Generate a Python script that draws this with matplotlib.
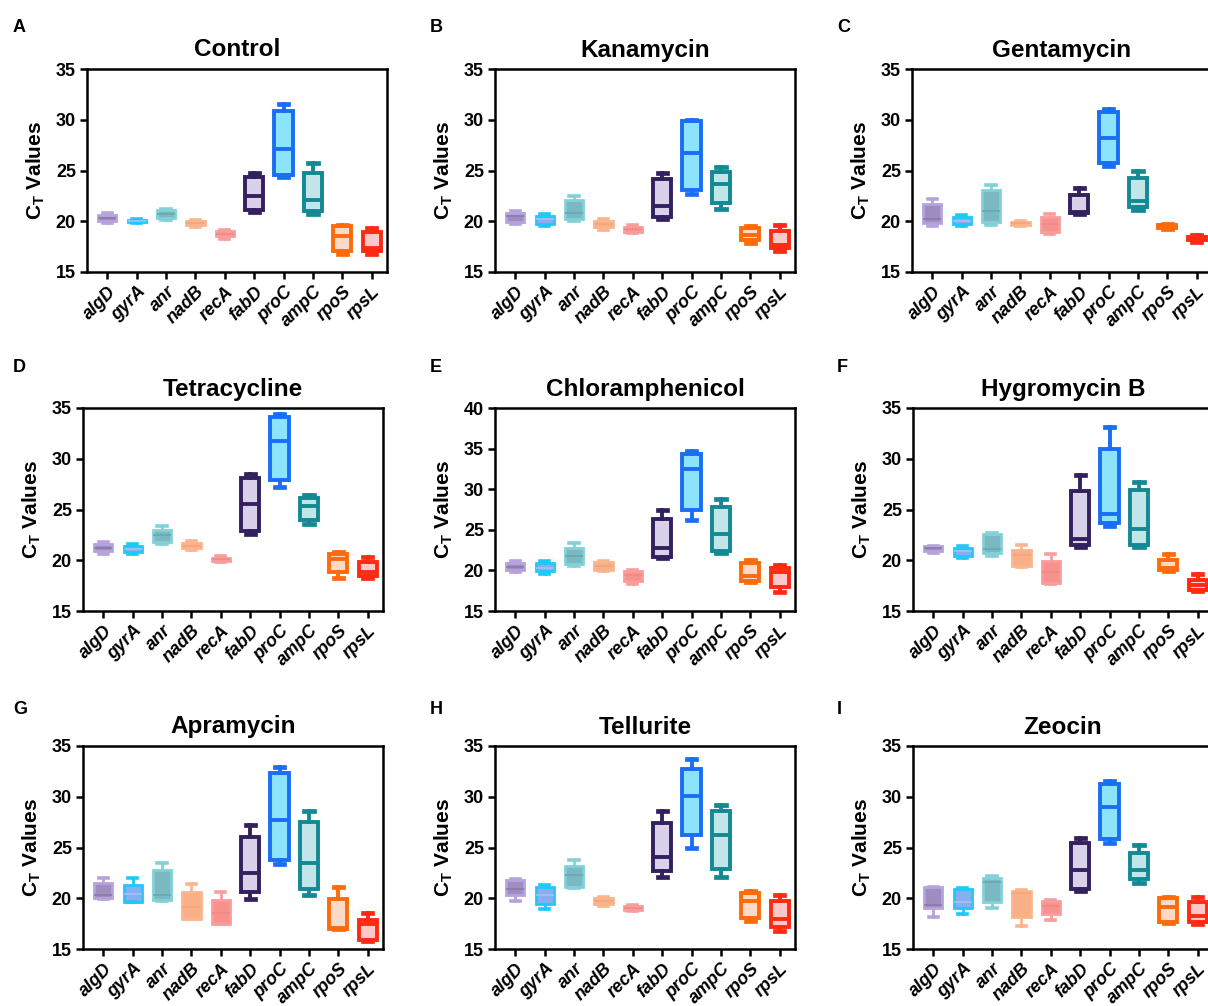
import numpy as np
import matplotlib
matplotlib.use("Agg")
import matplotlib.pyplot as plt

plt.rcParams['font.family'] = ['Liberation Sans', 'DejaVu Sans']
plt.rcParams['font.weight'] = 'bold'
plt.rcParams['mathtext.fontset'] = 'custom'
plt.rcParams['mathtext.bf'] = 'Liberation Sans:bold'
plt.rcParams['mathtext.rm'] = 'Liberation Sans:bold'

genes = ['algD', 'gyrA', 'anr', 'nadB', 'recA', 'fabD', 'proC', 'ampC', 'rpoS', 'rpsL']

# five-number summaries per gene: min, q1, median, q3, max
control = [[19.85, 20.05, 20.35, 20.65, 20.8], [19.8, 19.9, 20.05, 20.15, 20.2],
           [20.1, 20.3, 20.7, 21.1, 21.25], [19.45, 19.6, 19.8, 20.0, 20.1],
           [18.3, 18.5, 18.75, 19.0, 19.15], [20.95, 21.15, 22.5, 24.35, 24.75],
           [24.35, 24.55, 27.1, 30.9, 31.55], [20.75, 21.05, 22.1, 24.8, 25.7],
           [16.8, 17.1, 18.5, 19.5, 19.6], [16.8, 17.05, 17.35, 18.9, 19.35]]
kanamycin = [[19.7, 19.95, 20.5, 20.8, 21.0], [19.5, 19.75, 20.2, 20.5, 20.7],
             [20.0, 20.2, 20.8, 22.1, 22.5], [19.1, 19.4, 19.75, 20.05, 20.25],
             [18.8, 18.95, 19.2, 19.45, 19.6], [20.2, 20.4, 21.5, 24.2, 24.8],
             [22.7, 23.1, 26.7, 29.85, 30.0], [21.2, 21.8, 23.7, 24.85, 25.3],
             [17.9, 18.15, 18.6, 19.3, 19.5], [17.1, 17.35, 17.65, 19.05, 19.6]]
gentamycin = [[19.55, 19.8, 20.2, 21.7, 22.15], [19.5, 19.7, 20.05, 20.45, 20.65],
              [19.6, 19.9, 21.0, 23.1, 23.6], [19.5, 19.6, 19.8, 19.95, 20.0],
              [18.75, 18.95, 19.7, 20.4, 20.7], [20.75, 20.85, 20.9, 22.6, 23.3],
              [25.4, 25.7, 28.2, 30.8, 31.1], [21.15, 21.45, 21.95, 24.25, 24.95],
              [19.2, 19.3, 19.45, 19.6, 19.7], [18.0, 18.15, 18.3, 18.45, 18.6]]
tetracycline = [[20.6, 20.9, 21.25, 21.6, 21.75], [20.6, 20.8, 21.15, 21.45, 21.6],
                [21.6, 21.75, 22.5, 23.0, 23.35], [21.0, 21.2, 21.45, 21.7, 21.85],
                [19.8, 19.95, 20.1, 20.25, 20.4], [22.6, 22.9, 25.55, 28.15, 28.5],
                [27.25, 27.9, 31.7, 34.1, 34.4], [23.55, 23.95, 25.3, 26.15, 26.45],
                [18.25, 18.8, 20.1, 20.6, 20.8], [18.25, 18.4, 18.85, 19.8, 20.35]]
chloramphenicol = [[19.75, 20.0, 20.4, 20.9, 21.15], [19.6, 19.9, 20.3, 20.85, 21.1],
                   [20.6, 20.8, 21.8, 22.8, 23.4], [19.9, 20.1, 20.5, 21.0, 21.1],
                   [18.35, 18.75, 19.4, 19.9, 20.0], [21.5, 21.65, 22.7, 26.3, 27.4],
                   [26.15, 27.5, 32.45, 34.35, 34.75], [22.2, 22.45, 24.5, 27.85, 28.75],
                   [18.6, 18.7, 19.35, 20.95, 21.25], [17.35, 17.9, 19.85, 20.25, 20.7]]
hygromycin = [[20.7, 20.95, 21.2, 21.4, 21.45], [20.2, 20.45, 20.9, 21.2, 21.45],
              [20.45, 20.7, 21.15, 22.55, 22.7], [19.3, 19.4, 20.5, 21.0, 21.5],
              [17.7, 17.8, 18.8, 19.9, 20.6], [21.35, 21.55, 22.1, 26.85, 28.4],
              [23.35, 23.7, 24.6, 30.95, 33.1], [21.35, 21.5, 23.1, 26.9, 27.75],
              [18.9, 19.0, 19.25, 20.05, 20.6], [17.0, 17.1, 17.6, 18.1, 18.65]]
apramycin = [[19.9, 20.0, 20.3, 21.5, 22.0], [19.6, 19.65, 20.4, 21.35, 21.95],
             [19.75, 19.8, 20.3, 22.8, 23.45], [17.95, 18.0, 19.1, 20.6, 21.4],
             [17.45, 17.5, 18.5, 19.85, 20.6], [19.95, 20.6, 22.5, 26.05, 27.25],
             [23.35, 23.75, 27.7, 32.3, 32.95], [20.3, 20.9, 23.45, 27.5, 28.6],
             [16.95, 17.0, 17.1, 19.95, 21.1], [15.8, 15.85, 17.45, 17.85, 18.5]]
tellurite = [[19.75, 20.3, 20.9, 21.75, 21.85], [18.9, 19.45, 20.3, 21.15, 21.35],
             [21.0, 21.1, 22.3, 23.2, 23.8], [19.2, 19.45, 19.75, 20.0, 20.15],
             [18.7, 18.85, 19.05, 19.25, 19.35], [22.05, 22.65, 24.05, 27.4, 28.6],
             [24.95, 26.25, 30.05, 32.75, 33.7], [22.05, 22.85, 26.2, 28.55, 29.15],
             [17.75, 18.05, 19.7, 20.5, 20.7], [16.8, 17.15, 17.95, 19.7, 20.35]]
zeocin = [[18.2, 19.0, 19.35, 21.1, 21.15], [18.4, 19.05, 19.6, 20.9, 21.0],
          [19.05, 19.65, 21.6, 21.95, 22.2], [17.25, 18.15, 20.5, 20.75, 20.85],
          [17.9, 18.4, 19.2, 19.7, 19.8], [20.7, 20.9, 22.75, 25.4, 25.9],
          [25.4, 25.8, 29.0, 31.3, 31.55], [21.55, 21.9, 22.75, 24.45, 25.25],
          [17.55, 17.7, 19.1, 20.0, 20.1], [17.5, 17.7, 18.3, 19.6, 20.15]]

panels = [('A', 'Control', control, 35), ('B', 'Kanamycin', kanamycin, 35),
          ('C', 'Gentamycin', gentamycin, 35), ('D', 'Tetracycline', tetracycline, 35),
          ('E', 'Chloramphenicol', chloramphenicol, 40), ('F', 'Hygromycin B', hygromycin, 35),
          ('G', 'Apramycin', apramycin, 35), ('H', 'Tellurite', tellurite, 35),
          ('I', 'Zeocin', zeocin, 35)]

edge_colors = ['#b6a2dd', '#1ec9f8', '#82d0d8', '#fbb58c', '#f99d9c',
               '#33205e', '#1a6ef5', '#148893', '#ff6a0a', '#ff2a14']
face_colors = ['#9e8ec0', '#86aef0', '#7bb9c2', '#f9b088', '#f6918c',
               '#d9d0ea', '#8be3fc', '#c2e5ea', '#fddac8', '#fdc8c8']
median_colors = ['#8a7aa8', '#9fc4f4', '#6aa7b0', '#f4a57c', '#ef8a86',
                 '#33205e', '#1a6ef5', '#148893', '#ff6a0a', '#ff2a14']

W, H = 1208, 1006
fig = plt.figure(figsize=(W / 100, H / 100), dpi=100)

col_left = [[87, 495, 912], [83, 495, 913], [83, 495, 913]]
row_top = [69, 408, 746]
row_bot = [272, 611, 949]
letter_x = [13, 430, 837]
letter_y = [28, 367, 709]

for k, (letter, title, data, ymax) in enumerate(panels):
    r, c = divmod(k, 3)
    l = col_left[r][c]
    ax = fig.add_axes([l / W, 1 - row_bot[r] / H, 300 / W, (row_bot[r] - row_top[r]) / H])
    stats = [dict(whislo=d[0], q1=d[1], med=d[2], q3=d[3], whishi=d[4], fliers=[])
             for d in data]
    art = ax.bxp(stats, positions=np.arange(1, 11), widths=0.62, patch_artist=True,
                 showfliers=False)
    for i in range(10):
        dark = i >= 5
        lw = 2.8 if dark else 2.0
        art['boxes'][i].set_facecolor(face_colors[i])
        art['boxes'][i].set_edgecolor(edge_colors[i])
        art['boxes'][i].set_linewidth(lw)
        art['medians'][i].set_color(median_colors[i])
        art['medians'][i].set_linewidth(lw if dark else 1.2)
        for j in (2 * i, 2 * i + 1):
            art['whiskers'][j].set_color(edge_colors[i])
            art['whiskers'][j].set_linewidth(lw)
            art['caps'][j].set_color(edge_colors[i])
            art['caps'][j].set_linewidth(lw + 0.6)
    ax.set_xlim(0.31, 10.52)
    ax.set_ylim(15, ymax)
    ax.set_yticks(np.arange(15, ymax + 1, 5))
    ax.set_xticks(np.arange(1, 11))
    ax.set_xticklabels(genes, rotation=45, ha='right', rotation_mode='anchor',
                       fontstyle='italic', fontsize=13, fontweight='bold')
    ax.tick_params(axis='y', labelsize=13, width=1.8, length=5, pad=3)
    ax.tick_params(axis='x', width=1.8, length=5, pad=3)
    for s in ax.spines.values():
        s.set_linewidth(1.8)
    ax.set_ylabel('C$_\\mathbf{T}$ Values', fontsize=15, fontweight='bold', labelpad=6)
    ax.set_title(title, fontsize=17.5, fontweight='bold', pad=9)
    fig.text(letter_x[c] / W, 1 - letter_y[r] / H, letter, fontsize=13,
             fontweight='bold', va='center', ha='left')

fig.savefig('out.png', dpi=100)
